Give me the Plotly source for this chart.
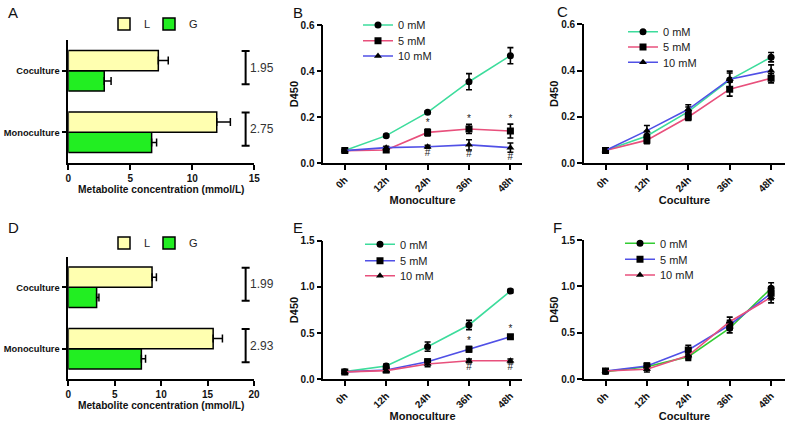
import plotly.graph_objects as go

W, H = 797, 423
FONT = "Liberation Sans, Arial, sans-serif"

# ---------------- data ----------------
bar_cats = ["Monoculture", "Coculture"]
A_L = [11.97, 7.26]
A_L_err = [1.1, 0.8]
A_G = [6.72, 2.90]
A_G_err = [0.40, 0.55]
A_ratio = ["2.75", "1.95"]

D_L = [15.6, 9.02]
D_L_err = [1.0, 0.47]
D_G = [7.87, 3.05]
D_G_err = [0.45, 0.25]
D_ratio = ["2.93", "1.99"]

times = ["0h", "12h", "24h", "36h", "48h"]
doses = ["0 mM", "5 mM", "10 mM"]

B_0 = [0.055, 0.120, 0.221, 0.354, 0.467]
B_5 = [0.055, 0.058, 0.134, 0.149, 0.140]
B_10 = [0.055, 0.068, 0.072, 0.080, 0.068]
B_0_err = [0.005, 0.006, 0.006, 0.035, 0.035]
B_5_err = [0.005, 0.008, 0.015, 0.020, 0.030]
B_10_err = [0.005, 0.006, 0.006, 0.022, 0.020]
B_star = ["", "", "*", "*", "*"]
B_hash = ["", "", "#", "#", "#"]

C_0 = [0.055, 0.118, 0.223, 0.360, 0.458]
C_5 = [0.055, 0.100, 0.200, 0.320, 0.367]
C_10 = [0.055, 0.141, 0.233, 0.363, 0.400]
C_0_err = [0.005, 0.020, 0.020, 0.030, 0.020]
C_5_err = [0.005, 0.015, 0.015, 0.030, 0.020]
C_10_err = [0.005, 0.022, 0.020, 0.035, 0.025]

E_0 = [0.083, 0.144, 0.353, 0.588, 0.955]
E_5 = [0.080, 0.100, 0.190, 0.325, 0.460]
E_10 = [0.080, 0.094, 0.166, 0.200, 0.200]
E_0_err = [0.02, 0.02, 0.05, 0.05, 0.02]
E_5_err = [0.02, 0.02, 0.03, 0.03, 0.02]
E_10_err = [0.02, 0.02, 0.03, 0.02, 0.02]
E_star = ["", "", "*", "*", "*"]
E_hash = ["", "", "", "#", "#"]

F_0 = [0.083, 0.136, 0.244, 0.550, 0.980]
F_5 = [0.090, 0.144, 0.316, 0.585, 0.926]
F_10 = [0.090, 0.108, 0.255, 0.620, 0.883]
F_0_err = [0.02, 0.03, 0.04, 0.05, 0.06]
F_5_err = [0.02, 0.03, 0.05, 0.05, 0.07]
F_10_err = [0.02, 0.03, 0.04, 0.05, 0.06]

# ---------------- styles ----------------
TEAL = "#3ddc9c"
PINK = "#e8507c"
BLUE = "#5050e6"
GREEN = "#33cc33"
L_COL = "#ffffb0"
G_COL = "#22ee22"
SYMBOLS = ["circle", "square", "triangle-up"]
LEG_FONT = dict(family=FONT, size=11, color="#222")


def px_x(p):
    return p / W


def px_y(p):
    return 1 - p / H


fig = go.Figure()
legends = {}
leg_counter = [1]


def new_legend(x_left, y_mid):
    n = leg_counter[0]
    leg_counter[0] += 1
    lname = "legend" if n == 1 else f"legend{n}"
    legends[lname] = dict(x=px_x(x_left), y=px_y(y_mid), xanchor="left", yanchor="middle",
                          font=LEG_FONT, bgcolor="rgba(0,0,0,0)", itemwidth=30)
    return lname


# ---------------- bar panels ----------------
def add_bar_panel(ax, L, Lerr, G, Gerr, leg_row):
    xa, ya = ("x", "y") if ax == 1 else (f"x{ax}", f"y{ax}")
    fig.add_trace(go.Bar(
        y=bar_cats, x=G, orientation="h", name="G", xaxis=xa, yaxis=ya,
        marker=dict(color=G_COL, line=dict(color="black", width=1.5)),
        error_x=dict(type="data", array=Gerr, arrayminus=[0] * len(Gerr), symmetric=False,
                     color="black", thickness=1.5, width=4),
        legend=new_legend(149, leg_row)))
    fig.add_trace(go.Bar(
        y=bar_cats, x=L, orientation="h", name="L", xaxis=xa, yaxis=ya,
        marker=dict(color=L_COL, line=dict(color="black", width=1.5)),
        error_x=dict(type="data", array=Lerr, arrayminus=[0] * len(Lerr), symmetric=False,
                     color="black", thickness=1.5, width=4),
        legend=new_legend(104, leg_row)))


add_bar_panel(1, A_L, A_L_err, A_G, A_G_err, 24)
add_bar_panel(4, D_L, D_L_err, D_G, D_G_err, 243)

# ---------------- line panels ----------------
def add_line_panel(ax, series, errs, colors, text_x, rows, star=None, hash_=None,
                   star_idx=1, hash_idx=2):
    xa, ya = f"x{ax}", f"y{ax}"
    for i, (vals, err, col) in enumerate(zip(series, errs, colors)):
        fig.add_trace(go.Scatter(
            x=times, y=vals, name=doses[i], mode="lines+markers", xaxis=xa, yaxis=ya,
            line=dict(color=col, width=1.6),
            marker=dict(color="black", size=7, symbol=SYMBOLS[i]),
            error_y=dict(type="data", array=err, color="black", thickness=1.6, width=3),
            legend=new_legend(text_x - 40, rows[i])))
    if star:
        fig.add_trace(go.Scatter(
            x=times, y=[v + e for v, e in zip(series[star_idx], errs[star_idx])],
            text=star, mode="text", textposition="top center",
            textfont=dict(size=10, color="#222"), xaxis=xa, yaxis=ya,
            showlegend=False, hoverinfo="skip"))
    if hash_:
        fig.add_trace(go.Scatter(
            x=times, y=[v - e for v, e in zip(series[hash_idx], errs[hash_idx])],
            text=hash_, mode="text", textposition="bottom center",
            textfont=dict(size=10, color="#222"), xaxis=xa, yaxis=ya,
            showlegend=False, hoverinfo="skip"))


add_line_panel(2, [B_0, B_5, B_10], [B_0_err, B_5_err, B_10_err],
               [TEAL, PINK, BLUE], 398, [25, 40.7, 56], B_star, B_hash)
add_line_panel(3, [C_0, C_5, C_10], [C_0_err, C_5_err, C_10_err],
               [TEAL, PINK, BLUE], 663, [31.7, 47, 62.3])
add_line_panel(5, [E_0, E_5, E_10], [E_0_err, E_5_err, E_10_err],
               [TEAL, BLUE, PINK], 400, [244.3, 260.7, 275.7], E_star, E_hash)
add_line_panel(6, [F_0, F_5, F_10], [F_0_err, F_5_err, F_10_err],
               [GREEN, BLUE, PINK], 660, [243.3, 259.3, 275])

# ---------------- axes ----------------
AX = dict(showline=True, linecolor="black", linewidth=1.6, ticks="outside", ticklen=5,
          tickwidth=1.5, tickcolor="black", showgrid=False, zeroline=False, automargin=False,
          tickfont=dict(family=FONT, size=10, color="#111", weight="bold"))
TITLE_FONT = dict(family=FONT, size=11, color="#111", weight="bold")
BAR_TITLE_FONT = dict(family=FONT, size=10.2, color="#111", weight="bold")
CAT_TICK_FONT = dict(family=FONT, size=9.3, color="#111", weight="bold")

layout_axes = {}
# A
layout_axes["xaxis"] = dict(AX, domain=[px_x(68.3), px_x(254.3)], range=[0, 15], dtick=5,
                            anchor="y", title=dict(text="Metabolite concentration (mmol/L)",
                                                   font=BAR_TITLE_FONT, standoff=2))
layout_axes["yaxis"] = dict(AX, domain=[px_y(163), px_y(40)], anchor="x", type="category",
                            categoryorder="array", categoryarray=bar_cats, range=[-0.5, 1.5],
                            tickfont=CAT_TICK_FONT)
# D
layout_axes["xaxis4"] = dict(AX, domain=[px_x(68.3), px_x(254)], range=[0, 20], dtick=5,
                             anchor="y4", title=dict(text="Metabolite concentration (mmol/L)",
                                                     font=BAR_TITLE_FONT, standoff=2))
layout_axes["yaxis4"] = dict(AX, domain=[px_y(379.3), px_y(256.7)], anchor="x4", type="category",
                             categoryorder="array", categoryarray=bar_cats, range=[-0.5, 1.5],
                             tickfont=CAT_TICK_FONT)

line_panels = {
    2: dict(xd=[323.3, 521.7], yd=[163.3, 25.0], yr=[0, 0.6], dt=0.2, xt="Monoculture"),
    3: dict(xd=[584.0, 785.0], yd=[163.3, 24.3], yr=[0, 0.6], dt=0.2, xt="Coculture"),
    5: dict(xd=[323.3, 521.7], yd=[379.3, 240.7], yr=[0, 1.5], dt=0.5, xt="Monoculture"),
    6: dict(xd=[584.0, 785.0], yd=[379.3, 240.0], yr=[0, 1.5], dt=0.5, xt="Coculture"),
}
for k, p in line_panels.items():
    x0, x1 = p["xd"]
    span = (x1 - x0) / 41.4
    r0 = -(21.5 / 41.4)
    layout_axes[f"xaxis{k}"] = dict(AX, domain=[px_x(x0), px_x(x1)], anchor=f"y{k}",
                                    type="category", range=[r0, r0 + span], tickangle=-45,
                                    title=dict(text=p["xt"], font=TITLE_FONT, standoff=2))
    layout_axes[f"yaxis{k}"] = dict(AX, domain=[px_y(p["yd"][0]), px_y(p["yd"][1])],
                                    anchor=f"x{k}", range=p["yr"], dtick=p["dt"],
                                    tickformat=".1f",
                                    title=dict(text="D450", font=TITLE_FONT, standoff=0))

# ---------------- brackets and ratio labels ----------------
shapes = []
annotations = []
BR_OFF, BR_HALF = 0.05, 0.27
for xr, yr, xpos, ratios in [("x", "y", 14.3, A_ratio), ("x4", "y4", 19.1, D_ratio)]:
    for ci, txt in enumerate(ratios):
        c = ci + BR_OFF
        shapes.append(dict(type="line", xref=xr, yref=yr, x0=xpos, x1=xpos,
                           y0=c - BR_HALF, y1=c + BR_HALF, line=dict(color="black", width=2)))
        for yy in (c - BR_HALF, c + BR_HALF):
            shapes.append(dict(type="line", xref=xr, yref=yr, xsizemode="pixel", xanchor=xpos,
                               x0=-4, x1=4, y0=yy, y1=yy, line=dict(color="black", width=2)))
        annotations.append(dict(xref=xr, yref=yr, x=xpos, y=c, text=txt, showarrow=False,
                                xanchor="left", xshift=2,
                                font=dict(family=FONT, size=12, color="#333")))

for lab, x, y in [("A", 6, 12), ("B", 291, 12), ("C", 555, 11),
                  ("D", 6, 227), ("E", 291, 227), ("F", 551, 227)]:
    annotations.append(dict(xref="paper", yref="paper", x=px_x(x), y=px_y(y), text=lab,
                            showarrow=False, xanchor="left", yanchor="middle",
                            font=dict(family=FONT, size=15, color="#111")))

fig.update_layout(
    width=W, height=H, margin=dict(l=0, r=0, t=0, b=0, autoexpand=False),
    paper_bgcolor="white", plot_bgcolor="white",
    font=dict(family=FONT, size=10, color="#111"),
    barmode="group", bargap=0.34, bargroupgap=0,
    shapes=shapes, annotations=annotations, showlegend=True,
    **layout_axes, **legends,
)

fig.write_html("out.html", config={"displayModeBar": False},
               post_script="document.body.style.margin='0';document.body.style.padding='0';")
